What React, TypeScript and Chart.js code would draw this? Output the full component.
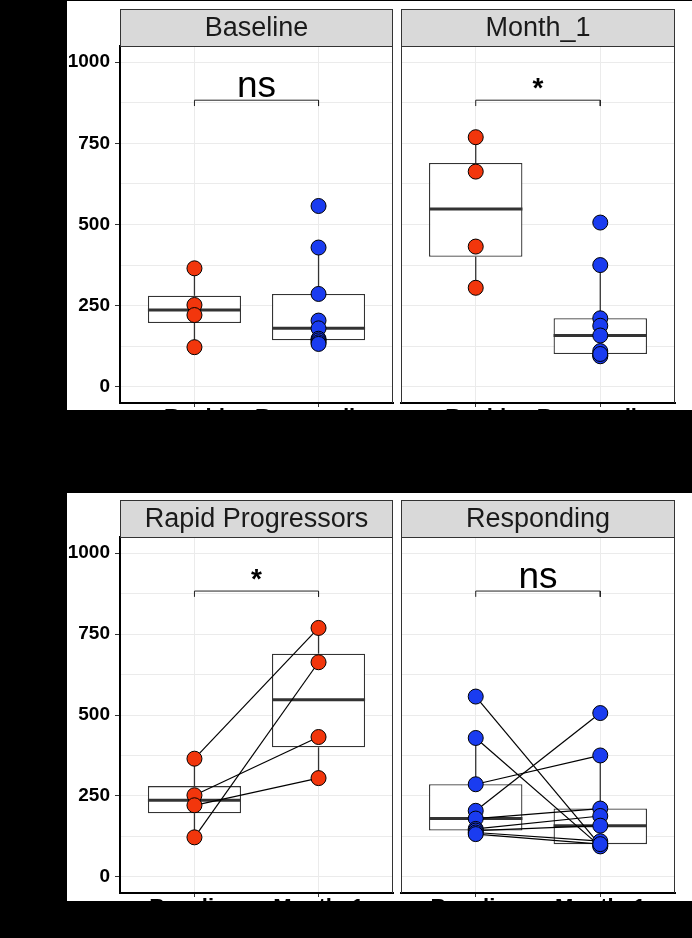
import React, { useEffect, useRef } from "react";
import { Chart, registerables } from "chart.js";
Chart.register(...registerables);

// ---------------- data ----------------
const TIMEPOINTS = ["Baseline", "Month_1"];
const GROUP_TITLES = ["Rapid Progressors", "Responding"];
const GROUP_AXIS_LABELS: (string | string[])[] = [["Rapid", "Progressors"], "Responding"];

// paired by patient (index k at baseline -> index k at month 1)
const rapidBaseline = [365, 252, 221, 122];
const rapidMonth1 = [769, 432, 305, 663];
const respBaseline = [557, 429, 286, 204, 180, 148, 143, 137, 132];
const respMonth1 = [97, 94, 375, 506, 211, 188, 158, 110, 101];

const Y_TICKS = [0, 125, 250, 375, 500, 625, 750, 875, 1000];
const Y_LABELED = [0, 250, 500, 750, 1000];
const Y_MIN = -50;
const Y_MAX = 1050;

const SIG_BASELINE = "ns";
const SIG_MONTH1 = "*";
const SIG_RAPID = "*";
const SIG_RESPONDING = "ns";
const BRACKET_Y = 883;
const BRACKET_TIP = 865;
const SIG_TEXT_Y = 892;

// ---------------- styles ----------------
const RED = "#F2360C";
const BLUE = "#1A3CF0";
const BOX_WIDTH = 0.75;
const FONT = '"Liberation Sans", Arial, sans-serif';

function quantile(sorted: number[], p: number) {
  const h = (sorted.length - 1) * p;
  const lo = Math.floor(h);
  const hi = Math.ceil(h);
  return sorted[lo] + (h - lo) * (sorted[hi] - sorted[lo]);
}
function boxStats(values: number[]) {
  const s = [...values].sort((a, b) => a - b);
  const q1 = quantile(s, 0.25);
  const med = quantile(s, 0.5);
  const q3 = quantile(s, 0.75);
  const iqr = q3 - q1;
  const hi = Math.max(...s.filter((v) => v <= q3 + 1.5 * iqr));
  const lo = Math.min(...s.filter((v) => v >= q1 - 1.5 * iqr));
  return { q1, med, q3, hi, lo };
}

type Series = { values: number[]; color: string };
type Spec = {
  title: string;
  xLabels: (string | string[])[];
  series: Series[];
  pairs: [number[], number[]] | null;
  sig: string;
  sigBold: boolean;
  showY: boolean;
};
type Geo = { left: number; top: number; w: number; h: number; padTop: number; padL: number; padR: number; yW: number; xH: number };

const STRIP_H = 37;

const panelDecor = {
  id: "panelDecor",
  beforeDatasetsDraw(chart: any, _a: any, opts: any) {
    const { ctx, chartArea: a } = chart;
    ctx.save();
    ctx.fillStyle = "#D9D9D9";
    ctx.fillRect(a.left, a.top - STRIP_H, a.right - a.left, STRIP_H);
    ctx.strokeStyle = "#333333";
    ctx.lineWidth = 1;
    ctx.strokeRect(a.left + 0.5, a.top - STRIP_H + 0.5, a.right - a.left - 1, STRIP_H);
    ctx.fillStyle = "#1A1A1A";
    ctx.font = `27px ${FONT}`;
    ctx.textAlign = "center";
    ctx.textBaseline = "middle";
    ctx.fillText(opts.title, (a.left + a.right) / 2, a.top - STRIP_H / 2 + 1);
    ctx.restore();
  },
  afterDatasetsDraw(chart: any, _a: any, opts: any) {
    const { ctx, chartArea: a, scales } = chart;
    ctx.save();
    ctx.strokeStyle = "#333333";
    ctx.lineWidth = 1;
    ctx.beginPath();
    ctx.moveTo(Math.round(a.right) - 0.5, a.top);
    ctx.lineTo(Math.round(a.right) - 0.5, a.bottom);
    if (!opts.showY) {
      ctx.moveTo(Math.round(a.left) + 0.5, a.top);
      ctx.lineTo(Math.round(a.left) + 0.5, a.bottom);
    }
    ctx.stroke();
    const x = (scales.x.getPixelForValue(1) + scales.x.getPixelForValue(2)) / 2;
    const y = scales.y.getPixelForValue(SIG_TEXT_Y);
    ctx.fillStyle = "#000";
    ctx.textAlign = "center";
    ctx.textBaseline = "alphabetic";
    ctx.font = opts.sigBold ? `bold 28px ${FONT}` : `37px ${FONT}`;
    ctx.fillText(opts.sig, x, y);
    ctx.restore();
  },
};

function buildConfig(spec: Spec, geo: Geo): any {
  const datasets: any[] = [];
  const stats = spec.series.map((s) => boxStats(s.values));
  spec.series.forEach((s, i) => {
    const x = i + 1;
    const st = stats[i];
    datasets.push({ type: "line", data: [{ x, y: st.q3 }, { x, y: st.hi }], borderColor: "#333333", borderWidth: 1.3, pointRadius: 0, order: 5 });
    datasets.push({ type: "line", data: [{ x, y: st.q1 }, { x, y: st.lo }], borderColor: "#333333", borderWidth: 1.3, pointRadius: 0, order: 5 });
    datasets.push({
      type: "line",
      data: [{ x: x - BOX_WIDTH / 2, y: st.med }, { x: x + BOX_WIDTH / 2, y: st.med }],
      borderColor: "#333333", borderWidth: 3, pointRadius: 0, order: 3,
    });
    datasets.push({
      type: "line",
      data: s.values.map((v) => ({ x, y: v })),
      showLine: false,
      pointRadius: 7.5,
      pointBackgroundColor: s.color,
      pointBorderColor: "#000",
      pointBorderWidth: 1,
      order: 0,
    });
  });
  datasets.push({
    type: "bar",
    data: stats.map((st, i) => ({ x: i + 1, y: [st.q1, st.q3] })),
    backgroundColor: "#FFFFFF",
    borderColor: "#333333",
    borderWidth: 1.3,
    borderSkipped: false,
    barPercentage: BOX_WIDTH,
    categoryPercentage: 1,
    order: 4,
  });
  if (spec.pairs) {
    const [a, b] = spec.pairs;
    a.forEach((v, k) => {
      datasets.push({ type: "line", data: [{ x: 1, y: v }, { x: 2, y: b[k] }], borderColor: "#000", borderWidth: 1.2, pointRadius: 0, order: 1 });
    });
  }
  datasets.push({
    type: "line",
    data: [{ x: 1, y: BRACKET_TIP }, { x: 1, y: BRACKET_Y }, { x: 2, y: BRACKET_Y }, { x: 2, y: BRACKET_TIP }],
    borderColor: "#222", borderWidth: 1, pointRadius: 0, order: 1,
  });

  return {
    type: "line",
    data: { datasets },
    plugins: [panelDecor],
    options: {
      animation: false,
      responsive: false,
      devicePixelRatio: 1,
      events: [],
      layout: { autoPadding: false, padding: { top: geo.padTop, left: geo.padL, right: geo.padR, bottom: 0 } },
      plugins: {
        legend: { display: false },
        tooltip: { enabled: false },
        panelDecor: { title: spec.title, sig: spec.sig, sigBold: spec.sigBold, showY: spec.showY },
      },
      scales: {
        x: {
          type: "linear",
          min: 0.4,
          max: 2.6,
          offset: false,
          afterBuildTicks: (s: any) => { s.ticks = [{ value: 1 }, { value: 2 }]; },
          afterFit: (s: any) => { s.height = geo.xH; s.paddingLeft = 0; s.paddingRight = 0; },
          ticks: {
            callback: (_v: any, i: number) => spec.xLabels[i],
            font: { family: FONT, size: 22, weight: "bold" },
            color: "#000",
            padding: -2,
            maxRotation: 0,
            minRotation: 0,
            autoSkip: false,
          },
          grid: { color: "#EBEBEB", tickColor: "#333333", tickLength: 4, offset: false },
          border: { color: "#000", width: 2 },
        },
        y: {
          type: "linear",
          min: Y_MIN,
          max: Y_MAX,
          afterBuildTicks: (s: any) => { s.ticks = Y_TICKS.map((v) => ({ value: v })); },
          afterFit: (s: any) => { s.width = geo.yW; s.paddingTop = 0; s.paddingBottom = 0; },
          ticks: {
            display: spec.showY,
            callback: (v: number) => (Y_LABELED.includes(v) ? String(v) : ""),
            font: { family: FONT, size: 19, weight: "bold" },
            color: "#000",
            padding: 5,
          },
          grid: {
            color: "#EBEBEB",
            drawTicks: spec.showY,
            tickLength: 5,
            tickColor: (c: any) => (c.tick && Y_LABELED.includes(c.tick.value) ? "#333333" : "rgba(0,0,0,0)"),
          },
          border: { display: spec.showY, color: "#000", width: 2 },
        },
      },
    },
  };
}

function Panel({ spec, geo }: { spec: Spec; geo: Geo }) {
  const ref = useRef<HTMLCanvasElement>(null);
  useEffect(() => {
    const chart = new Chart(ref.current as HTMLCanvasElement, buildConfig(spec, geo));
    return () => chart.destroy();
  }, []);
  return (
    <canvas
      ref={ref}
      width={geo.w}
      height={geo.h}
      style={{ position: "absolute", left: geo.left, top: geo.top, width: geo.w, height: geo.h }}
    />
  );
}

const TOP_ROW = { top: 1, h: 409, padTop: 45, xH: 7 };
const BOT_ROW = { top: 493, h: 408, padTop: 44, xH: 8 };
const LEFT_COL = { left: 67, w: 330, padL: 0, padR: 4, yW: 53 };
const RIGHT_COL = { left: 397, w: 295, padL: 4, padR: 17, yW: 0 };

const panels: { spec: Spec; geo: Geo }[] = [
  {
    spec: {
      title: TIMEPOINTS[0], xLabels: GROUP_AXIS_LABELS,
      series: [{ values: rapidBaseline, color: RED }, { values: respBaseline, color: BLUE }],
      pairs: null, sig: SIG_BASELINE, sigBold: false, showY: true,
    },
    geo: { ...TOP_ROW, ...LEFT_COL },
  },
  {
    spec: {
      title: TIMEPOINTS[1], xLabels: GROUP_AXIS_LABELS,
      series: [{ values: rapidMonth1, color: RED }, { values: respMonth1, color: BLUE }],
      pairs: null, sig: SIG_MONTH1, sigBold: true, showY: false,
    },
    geo: { ...TOP_ROW, ...RIGHT_COL },
  },
  {
    spec: {
      title: GROUP_TITLES[0], xLabels: TIMEPOINTS,
      series: [{ values: rapidBaseline, color: RED }, { values: rapidMonth1, color: RED }],
      pairs: [rapidBaseline, rapidMonth1], sig: SIG_RAPID, sigBold: true, showY: true,
    },
    geo: { ...BOT_ROW, ...LEFT_COL },
  },
  {
    spec: {
      title: GROUP_TITLES[1], xLabels: TIMEPOINTS,
      series: [{ values: respBaseline, color: BLUE }, { values: respMonth1, color: BLUE }],
      pairs: [respBaseline, respMonth1], sig: SIG_RESPONDING, sigBold: false, showY: false,
    },
    geo: { ...BOT_ROW, ...RIGHT_COL },
  },
];

export default function App() {
  return (
    <div style={{ position: "fixed", left: 0, top: 0, width: 692, height: 938, background: "#000", overflow: "hidden" }}>
      <div style={{ position: "absolute", left: 67, top: TOP_ROW.top, width: 625, height: TOP_ROW.h, background: "#fff" }} />
      <div style={{ position: "absolute", left: 67, top: BOT_ROW.top, width: 625, height: BOT_ROW.h, background: "#fff" }} />
      {panels.map((p, i) => (
        <Panel key={i} spec={p.spec} geo={p.geo} />
      ))}
    </div>
  );
}
